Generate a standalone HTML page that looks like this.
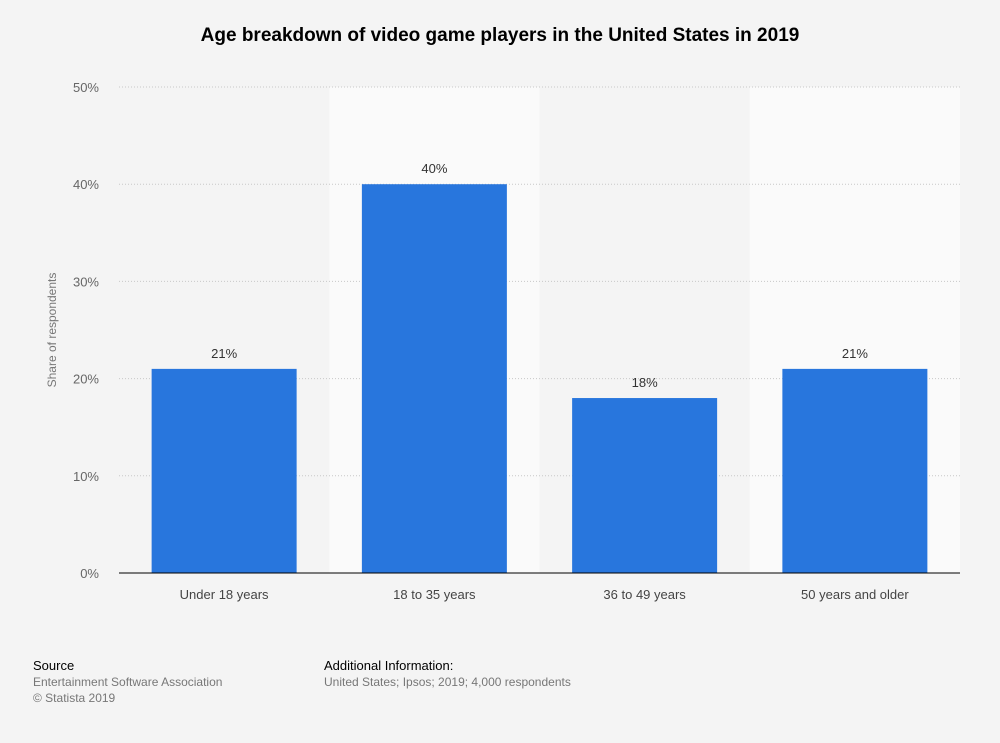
<!DOCTYPE html>
<html><head><meta charset="utf-8"><style>
body{margin:0;background:#f4f4f4;font-family:"Liberation Sans",sans-serif;}
svg{display:block}
</style></head><body>
<svg width="1000" height="743" xmlns="http://www.w3.org/2000/svg">
<rect width="1000" height="743" fill="#f4f4f4"/>
<text x="500" y="41" text-anchor="middle" font-size="19" font-weight="bold" fill="#000">Age breakdown of video game players in the United States in 2019</text>
<g id="bands"></g><g id="grid"></g><g id="bars"></g><g id="labels"></g>
<text transform="translate(56,330) rotate(-90)" text-anchor="middle" font-size="12" fill="#777">Share of respondents</text>
<g>
<text x="33" y="670" font-size="13" fill="#000">Source</text>
<text x="33" y="686" font-size="12" fill="#777">Entertainment Software Association</text>
<text x="33" y="702" font-size="12" fill="#777">© Statista 2019</text>
</g>
<g>
<text x="324" y="670" font-size="13" fill="#000">Additional Information:</text>
<text x="324" y="686" font-size="12" fill="#777">United States; Ipsos; 2019; 4,000 respondents</text>
</g>
</svg>
<script>
const categories=["Under 18 years","18 to 35 years","36 to 49 years","50 years and older"];
const values=[21,40,18,21];
const valueLabels=["21%","40%","18%","21%"];
const yTicks=[0,10,20,30,40,50];
const yTickLabels=["0%","10%","20%","30%","40%","50%"];
const NS="http://www.w3.org/2000/svg";
const x0=119,x1=960,y0=573,y1=87,yMax=50;
const band=(x1-x0)/categories.length, barW=145;
const y=v=>y0-(v/yMax)*(y0-y1);
const xc=i=>x0+band*(i+0.5);
function mk(t,a,p){const e=document.createElementNS(NS,t);for(const k in a)e.setAttribute(k,a[k]);document.getElementById(p).appendChild(e);return e;}
categories.forEach((c,i)=>{
 const b=mk('rect',{x:x0+band*i,y:y1,width:band,height:y0-y1,fill:i%2?'#fafafa':'#f4f4f4'},'bands');
 
 
});
yTicks.forEach((t,i)=>{
 if(t>0){const l=mk('line',{x1:x0,x2:x1,y1:y(t),y2:y(t),stroke:'#c8c8c8','stroke-dasharray':'1,2'},'grid');
 
 }
 const tx=mk('text',{x:99,y:y(t)+5,'text-anchor':'end','font-size':13,fill:'#666'},'labels');
 tx.textContent=yTickLabels[i];
 
 
});
values.forEach((v,i)=>{
 const r=mk('rect',{x:xc(i)-barW/2,y:y(v),width:barW,height:y0-y(v),fill:'#2876dd'},'bars');
 
 
 const t=mk('text',{x:xc(i),y:y(v)-11,'text-anchor':'middle','font-size':13,fill:'#333'},'labels');
 t.textContent=valueLabels[i];
 
 
 const c=mk('text',{x:xc(i),y:599,'text-anchor':'middle','font-size':13,fill:'#444'},'labels');
 c.textContent=categories[i];
 
 
});
const ax=mk('line',{x1:x0,x2:x1,y1:y0,y2:y0,stroke:'#000','stroke-width':1},'labels');


</script>
</body></html>
